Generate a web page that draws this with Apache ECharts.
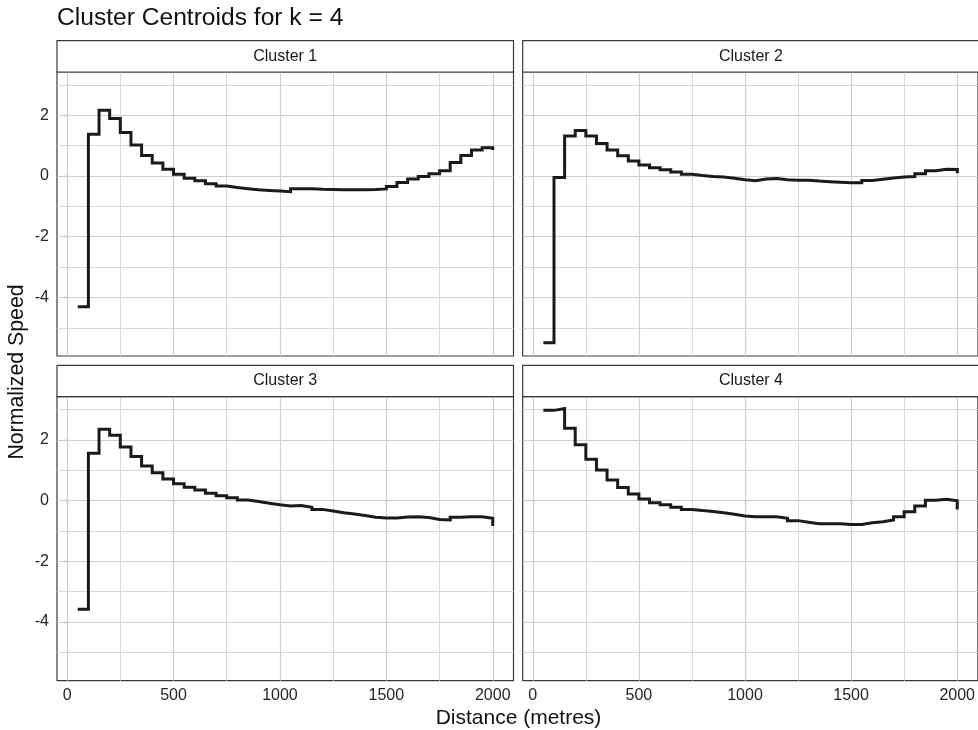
<!DOCTYPE html>
<html><head><meta charset="utf-8">
<script src="https://cdn.jsdelivr.net/npm/echarts@6/dist/echarts.min.js"></script>
<style>html,body{margin:0;padding:0;background:#fff}#c{width:978px;height:730px}</style>
</head><body><div id="c"></div>
<script>
// ---- data ----
const distances = [50,100,150,200,250,300,350,400,450,500,550,600,650,700,750,800,850,900,950,1000,
  1050,1100,1150,1200,1250,1300,1350,1400,1450,1500,1550,1600,1650,1700,1750,1800,1850,1900,1950,2000];
const cluster1 = [-4.31,1.37,2.16,1.89,1.43,1.02,0.67,0.42,0.22,0.05,-0.08,-0.16,-0.26,-0.33,-0.38,-0.42,-0.46,-0.48,-0.50,-0.52,
  -0.42,-0.42,-0.44,-0.45,-0.46,-0.46,-0.46,-0.45,-0.43,-0.35,-0.22,-0.10,-0.02,0.07,0.17,0.44,0.67,0.85,0.93,0.85];
const cluster2 = [-5.49,-0.05,1.31,1.49,1.31,1.07,0.85,0.66,0.49,0.36,0.27,0.20,0.13,0.05,0.01,-0.02,-0.04,-0.08,-0.13,-0.16,
  -0.10,-0.09,-0.13,-0.14,-0.14,-0.17,-0.19,-0.21,-0.23,-0.23,-0.15,-0.11,-0.07,-0.04,-0.02,0.07,0.17,0.22,0.21,0.09];
const cluster3 = [-3.58,1.56,2.35,2.15,1.76,1.45,1.14,0.92,0.71,0.55,0.44,0.35,0.24,0.16,0.09,0.02,-0.03,-0.09,-0.14,-0.18,
  -0.16,-0.22,-0.29,-0.34,-0.40,-0.44,-0.49,-0.55,-0.57,-0.57,-0.54,-0.53,-0.56,-0.62,-0.64,-0.55,-0.53,-0.53,-0.58,-0.84];
const cluster4 = [2.97,3.03,2.38,1.84,1.36,1.01,0.68,0.43,0.22,0.05,-0.07,-0.14,-0.22,-0.29,-0.33,-0.36,-0.40,-0.45,-0.51,-0.53,
  -0.53,-0.53,-0.58,-0.66,-0.71,-0.76,-0.76,-0.76,-0.79,-0.79,-0.73,-0.70,-0.64,-0.53,-0.37,-0.18,0.01,0.04,-0.01,-0.29];
const panelNames = ['Cluster 1','Cluster 2','Cluster 3','Cluster 4'];
const xTicks = [0,500,1000,1500,2000];
const xMinor = [250,750,1250,1750];
const yTicks = [-4,-2,0,2];
const yMinor = [-5,-3,-1,1,3];
const xRange = [-47.5, 2097.5];
const yRange = [-5.93, 3.42];

// ---- layout ----
const FONT = '"Liberation Sans", Arial, sans-serif';
const W = 456.5, H = 284, STRIP = 31.3;
const panels = [
  {left: 57, top: 72}, {left: 522.7, top: 72},
  {left: 57, top: 396.7}, {left: 522.7, top: 396.7}
];
const seriesData = [cluster1, cluster2, cluster3, cluster4];

const grids = [], xAxes = [], yAxes = [], series = [], graphics = [];
panels.forEach((p, i) => {
  grids.push({left: p.left, top: p.top, width: W, height: H, show: true,
    borderColor: '#3a3a3a', borderWidth: 1.2, backgroundColor: '#fff', containLabel: false});
  const bottom = i >= 2, leftSide = i % 2 === 0;
  xAxes.push({type: 'value', gridIndex: i, min: xRange[0], max: xRange[1],
    axisLine: {show: false}, splitLine: {show: false},
    axisTick: {show: bottom, length: 4, lineStyle: {color: '#333', width: 1.2}, customValues: xTicks},
    axisLabel: {show: bottom, customValues: xTicks, margin: 7, color: '#262626', fontSize: 16, fontFamily: FONT,
      formatter: v => String(v)}});
  yAxes.push({type: 'value', gridIndex: i, min: yRange[0], max: yRange[1],
    axisLine: {show: false}, splitLine: {show: false},
    axisTick: {show: leftSide, length: 4, lineStyle: {color: '#333', width: 1.2}, customValues: yTicks},
    axisLabel: {show: leftSide, customValues: yTicks, margin: 8, color: '#262626', fontSize: 16, fontFamily: FONT,
      formatter: v => String(v)}});
  const minorLines = [], majorLines = [];
  xMinor.forEach(v => minorLines.push({coords: [[v, yRange[0]], [v, yRange[1]]]}));
  yMinor.forEach(v => minorLines.push({coords: [[xRange[0], v], [xRange[1], v]]}));
  xTicks.forEach(v => majorLines.push({coords: [[v, yRange[0]], [v, yRange[1]]]}));
  yTicks.forEach(v => majorLines.push({coords: [[xRange[0], v], [xRange[1], v]]}));
  series.push({type: 'lines', coordinateSystem: 'cartesian2d', xAxisIndex: i, yAxisIndex: i,
    silent: true, z: 1, lineStyle: {color: '#d9d9d9', width: 1, opacity: 1}, data: minorLines});
  series.push({type: 'lines', coordinateSystem: 'cartesian2d', xAxisIndex: i, yAxisIndex: i,
    silent: true, z: 1, lineStyle: {color: '#cfcfcf', width: 1.2, opacity: 1}, data: majorLines});
  series.push({type: 'line', xAxisIndex: i, yAxisIndex: i, step: 'end', showSymbol: false, symbol: 'none',
    z: 5, lineStyle: {color: '#1a1a1a', width: 3, join: 'miter', cap: 'butt'},
    data: distances.map((d, k) => [d, seriesData[i][k]])});
  graphics.push({type: 'rect', shape: {x: p.left, y: p.top - STRIP, width: W, height: STRIP},
    style: {fill: '#fff', stroke: '#3a3a3a', lineWidth: 1.2}, z: 10});
  graphics.push({type: 'text', x: p.left + W / 2, y: p.top - STRIP / 2, z: 11,
    style: {text: panelNames[i], fill: '#1a1a1a', fontSize: 16, fontFamily: FONT, align: 'center', verticalAlign: 'middle'}});
});
graphics.push({type: 'text', x: 57, y: 18.5, z: 11,
  style: {text: 'Cluster Centroids for k = 4', fill: '#111', fontSize: 24.6, fontFamily: FONT, align: 'left', verticalAlign: 'middle'}});
graphics.push({type: 'text', x: 518.5, y: 718, z: 11,
  style: {text: 'Distance (metres)', fill: '#111', fontSize: 21, fontFamily: FONT, align: 'center', verticalAlign: 'middle'}});
graphics.push({type: 'text', x: 17.5, y: 372, rotation: Math.PI / 2, z: 11,
  style: {text: 'Normalized Speed', fill: '#111', fontSize: 21.3, fontFamily: FONT, align: 'center', verticalAlign: 'middle'}});

const chart = echarts.init(document.getElementById('c'), null, {renderer: 'canvas'});
chart.setOption({
  animation: false,
  backgroundColor: '#fff',
  grid: grids, xAxis: xAxes, yAxis: yAxes, series: series, graphic: graphics
});
</script></body></html>
